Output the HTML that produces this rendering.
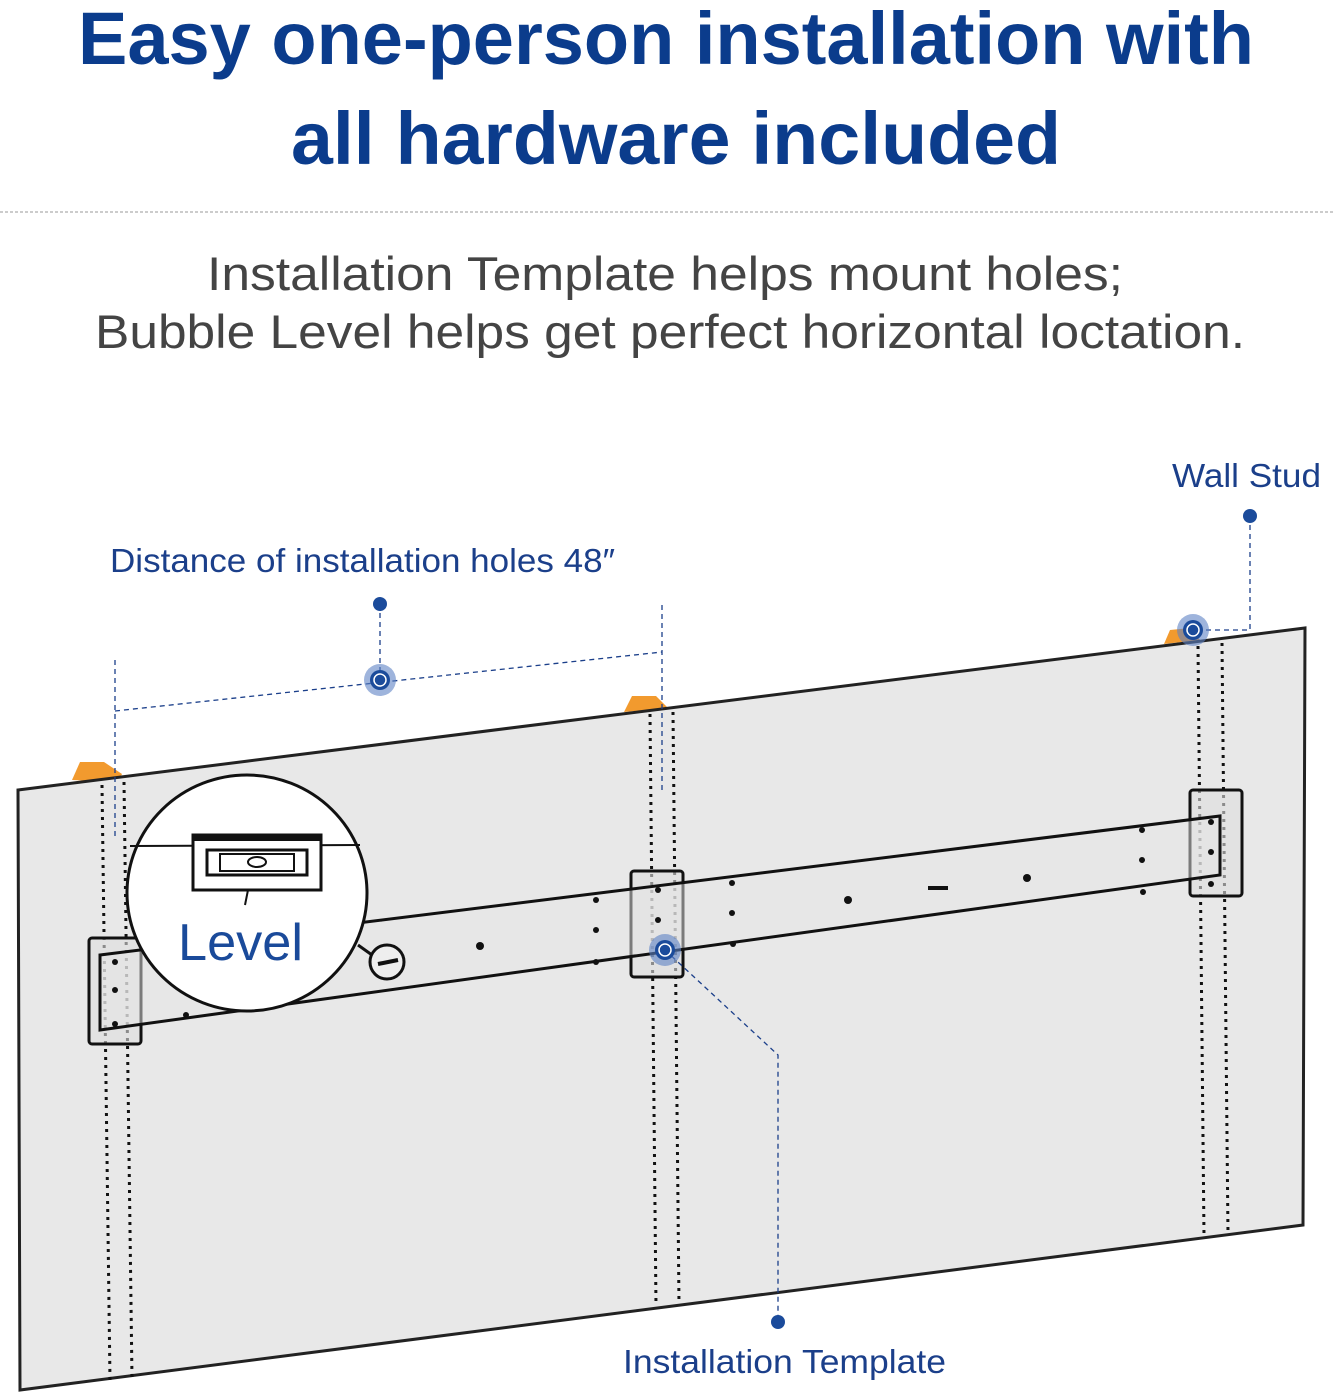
<!DOCTYPE html>
<html><head><style>
body{margin:0;background:#fff;width:1333px;height:1393px;overflow:hidden;font-family:"Liberation Sans",sans-serif}
</style></head><body>
<svg width="1333" height="1393" viewBox="0 0 1333 1393" xmlns="http://www.w3.org/2000/svg" font-family="Liberation Sans, sans-serif">
<text x="78" y="64" textLength="1176" lengthAdjust="spacingAndGlyphs" font-size="74" font-weight="bold" fill="#0b3c8c">Easy one-person installation with</text>
<text x="291" y="164" textLength="770" lengthAdjust="spacingAndGlyphs" font-size="74" font-weight="bold" fill="#0b3c8c">all hardware included</text>
<line x1="0" y1="212" x2="1333" y2="212" stroke="#999" stroke-dasharray="3,2" stroke-width="1"/>
<text x="207" y="290" textLength="916" lengthAdjust="spacingAndGlyphs" font-size="47" fill="#444">Installation Template helps mount holes;</text>
<text x="95" y="348" textLength="1150" lengthAdjust="spacingAndGlyphs" font-size="47" fill="#444">Bubble Level helps get perfect horizontal loctation.</text>
<text x="1172" y="487" textLength="149" lengthAdjust="spacingAndGlyphs" font-size="33" fill="#1b3f8a">Wall Stud</text>
<text x="110" y="572" textLength="505" lengthAdjust="spacingAndGlyphs" font-size="33" fill="#1b3f8a">Distance of installation holes 48″</text>
<text x="623" y="1373" textLength="323" lengthAdjust="spacingAndGlyphs" font-size="33" fill="#1b3f8a">Installation Template</text>
<!-- wood stud tops -->
<polygon points="72,780 80,762 104,762 122,774 118,782" fill="#f29a2e"/>
<polygon points="624,712 632,696 656,696 668,708" fill="#f29a2e"/>
<polygon points="1164,644 1170,630 1190,628 1200,640" fill="#f29a2e"/>
<!-- wall -->
<polygon points="18,790 1305,628 1303,1225 20,1390" fill="#e8e8e8" stroke="#222" stroke-width="3"/>
<!-- stud dotted lines -->
<g stroke="#111" stroke-width="3" stroke-dasharray="3,5">
<line x1="102" y1="785" x2="110" y2="1380"/><line x1="124" y1="782" x2="132" y2="1378"/>
<line x1="650" y1="714" x2="656" y2="1306"/><line x1="673" y1="712" x2="679" y2="1304"/>
<line x1="1198" y1="646" x2="1204" y2="1236"/><line x1="1222" y1="643" x2="1228" y2="1234"/>
</g>
<!-- bracket boxes -->
<g fill="#ddd" fill-opacity="0.6" stroke="#111" stroke-width="3">
<rect x="89" y="938" width="52" height="106" rx="3"/>
<rect x="631" y="871" width="52" height="106" rx="3"/>
<rect x="1190" y="790" width="52" height="106" rx="3"/>
</g>
<!-- bar -->
<polygon points="100,955 1220,816 1220,875 100,1030" fill="#e6e6e6" fill-opacity="0.5" stroke="#111" stroke-width="3"/>
<g fill="#111">
<circle cx="115" cy="962" r="3"/><circle cx="115" cy="990" r="3"/><circle cx="115" cy="1024" r="3"/>
<circle cx="186" cy="1015" r="3"/>
<circle cx="596" cy="900" r="3"/><circle cx="596" cy="930" r="3"/><circle cx="596" cy="962" r="3"/>
<circle cx="658" cy="890" r="3"/><circle cx="658" cy="920" r="3"/>
<circle cx="732" cy="883" r="3"/><circle cx="732" cy="913" r="3"/><circle cx="733" cy="944" r="3"/>
<circle cx="1142" cy="830" r="3"/><circle cx="1142" cy="860" r="3"/><circle cx="1143" cy="892" r="3"/>
<circle cx="1211" cy="822" r="3"/><circle cx="1211" cy="852" r="3"/><circle cx="1211" cy="884" r="3"/>
<circle cx="480" cy="946" r="4"/><circle cx="848" cy="900" r="4"/><circle cx="1027" cy="878" r="4"/>
<rect x="928" y="886" width="20" height="4"/>
</g>
<circle cx="387" cy="962" r="17" fill="#eee" stroke="#111" stroke-width="3"/>
<line x1="378" y1="964" x2="398" y2="960" stroke="#111" stroke-width="4"/>
<line x1="358" y1="945" x2="372" y2="955" stroke="#111" stroke-width="3"/>
<!-- level magnifier -->
<ellipse cx="247" cy="893" rx="120" ry="118" fill="#fff" stroke="#111" stroke-width="3"/>
<line x1="130" y1="846" x2="360" y2="845" stroke="#111" stroke-width="2"/>
<rect x="193" y="835" width="128" height="55" fill="#fff" stroke="#111" stroke-width="3"/>
<rect x="193" y="835" width="128" height="6" fill="#111"/>
<rect x="207" y="850" width="100" height="25" fill="#fff" stroke="#111" stroke-width="3"/>
<rect x="220" y="854" width="74" height="17" fill="#fff" stroke="#111" stroke-width="2"/>
<ellipse cx="257" cy="862" rx="9" ry="5" fill="#fff" stroke="#111" stroke-width="2"/>
<line x1="248" y1="890" x2="245" y2="905" stroke="#111" stroke-width="2"/>
<text x="178" y="960" textLength="125" lengthAdjust="spacingAndGlyphs" font-size="52" fill="#1a4a9a">Level</text>
<!-- dashed callouts -->
<g stroke="#1b3f8a" stroke-width="1.3" stroke-dasharray="5,4" fill="none">
<line x1="115" y1="660" x2="115" y2="840"/>
<line x1="662" y1="605" x2="662" y2="790"/>
<line x1="115" y1="711" x2="662" y2="652"/>
<line x1="380" y1="604" x2="380" y2="680"/>
<polyline points="1250,516 1250,630 1193,630"/>
<polyline points="665,950 778,1055 778,1322"/>
</g>
<g fill="#1b4b9b">
<circle cx="380" cy="604" r="7"/><circle cx="1250" cy="516" r="7"/><circle cx="778" cy="1322" r="7"/>
</g>
<g>
<circle cx="380" cy="680" r="16" fill="#5d82c4" opacity="0.6"/><circle cx="380" cy="680" r="10" fill="#1b4b9b"/><circle cx="380" cy="680" r="6" fill="none" stroke="#fff" stroke-width="1.5"/>
<circle cx="1193" cy="630" r="16" fill="#5d82c4" opacity="0.6"/><circle cx="1193" cy="630" r="10" fill="#1b4b9b"/><circle cx="1193" cy="630" r="6" fill="none" stroke="#fff" stroke-width="1.5"/>
<circle cx="665" cy="950" r="16" fill="#5d82c4" opacity="0.6"/><circle cx="665" cy="950" r="10" fill="#1b4b9b"/><circle cx="665" cy="950" r="6" fill="none" stroke="#fff" stroke-width="1.5"/>
</g>
</svg>
</body></html>
